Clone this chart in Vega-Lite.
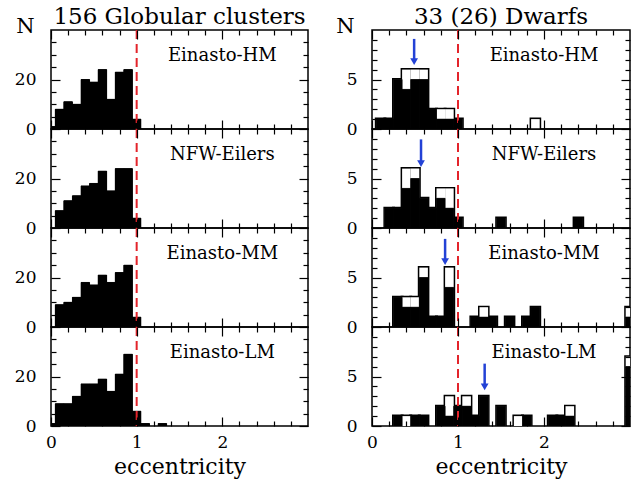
{
"$schema": "https://vega.github.io/schema/vega-lite/v6.json",
"padding": {"left": 13, "top": 5, "right": 0, "bottom": 2},
"config": {"view": {"stroke": "black", "strokeWidth": 1.5}, "font": "DejaVu Serif"},
"datasets": {
"bars": [
{"s":"G","m":"HM","k":"f","e":0.0,"n":1},{"s":"G","m":"HM","k":"f","e":0.1,"n":8},{"s":"G","m":"HM","k":"f","e":0.2,"n":11},{"s":"G","m":"HM","k":"f","e":0.3,"n":10},{"s":"G","m":"HM","k":"f","e":0.4,"n":20},{"s":"G","m":"HM","k":"f","e":0.5,"n":19},{"s":"G","m":"HM","k":"f","e":0.6,"n":24},{"s":"G","m":"HM","k":"f","e":0.7,"n":12},{"s":"G","m":"HM","k":"f","e":0.8,"n":23},{"s":"G","m":"HM","k":"f","e":0.9,"n":24},{"s":"G","m":"HM","k":"f","e":1.0,"n":4},
{"s":"G","m":"NFW","k":"f","e":0.1,"n":7},{"s":"G","m":"NFW","k":"f","e":0.2,"n":11},{"s":"G","m":"NFW","k":"f","e":0.3,"n":13},{"s":"G","m":"NFW","k":"f","e":0.4,"n":17},{"s":"G","m":"NFW","k":"f","e":0.5,"n":18},{"s":"G","m":"NFW","k":"f","e":0.6,"n":23},{"s":"G","m":"NFW","k":"f","e":0.7,"n":15},{"s":"G","m":"NFW","k":"f","e":0.8,"n":24},{"s":"G","m":"NFW","k":"f","e":0.9,"n":24},{"s":"G","m":"NFW","k":"f","e":1.0,"n":4},
{"s":"G","m":"MM","k":"f","e":0.1,"n":9},{"s":"G","m":"MM","k":"f","e":0.2,"n":10},{"s":"G","m":"MM","k":"f","e":0.3,"n":12},{"s":"G","m":"MM","k":"f","e":0.4,"n":18},{"s":"G","m":"MM","k":"f","e":0.5,"n":17},{"s":"G","m":"MM","k":"f","e":0.6,"n":21},{"s":"G","m":"MM","k":"f","e":0.7,"n":18},{"s":"G","m":"MM","k":"f","e":0.8,"n":22},{"s":"G","m":"MM","k":"f","e":0.9,"n":25},{"s":"G","m":"MM","k":"f","e":1.0,"n":4},
{"s":"G","m":"LM","k":"f","e":0.0,"n":1},{"s":"G","m":"LM","k":"f","e":0.1,"n":9},{"s":"G","m":"LM","k":"f","e":0.2,"n":9},{"s":"G","m":"LM","k":"f","e":0.3,"n":12},{"s":"G","m":"LM","k":"f","e":0.4,"n":17},{"s":"G","m":"LM","k":"f","e":0.5,"n":17},{"s":"G","m":"LM","k":"f","e":0.6,"n":19},{"s":"G","m":"LM","k":"f","e":0.7,"n":14},{"s":"G","m":"LM","k":"f","e":0.8,"n":21},{"s":"G","m":"LM","k":"f","e":0.9,"n":29},{"s":"G","m":"LM","k":"f","e":1.0,"n":6},{"s":"G","m":"LM","k":"f","e":1.1,"n":1},{"s":"G","m":"LM","k":"f","e":1.3,"n":1},
{"s":"D","m":"HM","k":"f","e":0.1,"n":1},{"s":"D","m":"HM","k":"f","e":0.2,"n":1},{"s":"D","m":"HM","k":"f","e":0.3,"n":5},{"s":"D","m":"HM","k":"f","e":0.4,"n":4},{"s":"D","m":"HM","k":"f","e":0.5,"n":5},{"s":"D","m":"HM","k":"f","e":0.6,"n":5},{"s":"D","m":"HM","k":"f","e":0.7,"n":2},{"s":"D","m":"HM","k":"f","e":0.8,"n":1},{"s":"D","m":"HM","k":"f","e":0.9,"n":1},{"s":"D","m":"HM","k":"f","e":1.0,"n":1},
{"s":"D","m":"HM","k":"o","e":0.1,"n":1},{"s":"D","m":"HM","k":"o","e":0.2,"n":1},{"s":"D","m":"HM","k":"o","e":0.3,"n":5},{"s":"D","m":"HM","k":"o","e":0.4,"n":6},{"s":"D","m":"HM","k":"o","e":0.5,"n":6},{"s":"D","m":"HM","k":"o","e":0.6,"n":6},{"s":"D","m":"HM","k":"o","e":0.7,"n":2},{"s":"D","m":"HM","k":"o","e":0.8,"n":2},{"s":"D","m":"HM","k":"o","e":0.9,"n":2},{"s":"D","m":"HM","k":"o","e":1.0,"n":1},{"s":"D","m":"HM","k":"o","e":1.9,"n":1},
{"s":"D","m":"NFW","k":"f","e":0.2,"n":2},{"s":"D","m":"NFW","k":"f","e":0.3,"n":2},{"s":"D","m":"NFW","k":"f","e":0.4,"n":4},{"s":"D","m":"NFW","k":"f","e":0.5,"n":5},{"s":"D","m":"NFW","k":"f","e":0.6,"n":3},{"s":"D","m":"NFW","k":"f","e":0.7,"n":2},{"s":"D","m":"NFW","k":"f","e":0.8,"n":3},{"s":"D","m":"NFW","k":"f","e":0.9,"n":2},{"s":"D","m":"NFW","k":"f","e":1.0,"n":1},{"s":"D","m":"NFW","k":"f","e":1.5,"n":1},{"s":"D","m":"NFW","k":"f","e":2.4,"n":1},
{"s":"D","m":"NFW","k":"o","e":0.2,"n":2},{"s":"D","m":"NFW","k":"o","e":0.3,"n":2},{"s":"D","m":"NFW","k":"o","e":0.4,"n":6},{"s":"D","m":"NFW","k":"o","e":0.5,"n":6},{"s":"D","m":"NFW","k":"o","e":0.6,"n":3},{"s":"D","m":"NFW","k":"o","e":0.7,"n":2},{"s":"D","m":"NFW","k":"o","e":0.8,"n":4},{"s":"D","m":"NFW","k":"o","e":0.9,"n":4},{"s":"D","m":"NFW","k":"o","e":1.0,"n":1},{"s":"D","m":"NFW","k":"o","e":1.5,"n":1},{"s":"D","m":"NFW","k":"o","e":2.4,"n":1},
{"s":"D","m":"MM","k":"f","e":0.3,"n":3},{"s":"D","m":"MM","k":"f","e":0.4,"n":2},{"s":"D","m":"MM","k":"f","e":0.5,"n":2},{"s":"D","m":"MM","k":"f","e":0.6,"n":5},{"s":"D","m":"MM","k":"f","e":0.7,"n":1},{"s":"D","m":"MM","k":"f","e":0.8,"n":1},{"s":"D","m":"MM","k":"f","e":0.9,"n":4},{"s":"D","m":"MM","k":"f","e":1.2,"n":1},{"s":"D","m":"MM","k":"f","e":1.3,"n":1},{"s":"D","m":"MM","k":"f","e":1.4,"n":1},{"s":"D","m":"MM","k":"f","e":1.6,"n":1},{"s":"D","m":"MM","k":"f","e":1.8,"n":1},{"s":"D","m":"MM","k":"f","e":1.9,"n":2},{"s":"D","m":"MM","k":"f","e":3.0,"n":1},
{"s":"D","m":"MM","k":"o","e":0.3,"n":3},{"s":"D","m":"MM","k":"o","e":0.4,"n":3},{"s":"D","m":"MM","k":"o","e":0.5,"n":3},{"s":"D","m":"MM","k":"o","e":0.6,"n":6},{"s":"D","m":"MM","k":"o","e":0.7,"n":1},{"s":"D","m":"MM","k":"o","e":0.8,"n":1},{"s":"D","m":"MM","k":"o","e":0.9,"n":6},{"s":"D","m":"MM","k":"o","e":1.2,"n":1},{"s":"D","m":"MM","k":"o","e":1.3,"n":2},{"s":"D","m":"MM","k":"o","e":1.4,"n":1},{"s":"D","m":"MM","k":"o","e":1.6,"n":1},{"s":"D","m":"MM","k":"o","e":1.8,"n":1},{"s":"D","m":"MM","k":"o","e":1.9,"n":2},{"s":"D","m":"MM","k":"o","e":3.0,"n":2},
{"s":"D","m":"LM","k":"f","e":0.3,"n":1},{"s":"D","m":"LM","k":"f","e":0.5,"n":1},{"s":"D","m":"LM","k":"f","e":0.6,"n":1},{"s":"D","m":"LM","k":"f","e":0.8,"n":2},{"s":"D","m":"LM","k":"f","e":0.9,"n":1},{"s":"D","m":"LM","k":"f","e":1.0,"n":2},{"s":"D","m":"LM","k":"f","e":1.1,"n":2},{"s":"D","m":"LM","k":"f","e":1.2,"n":1},{"s":"D","m":"LM","k":"f","e":1.3,"n":3},{"s":"D","m":"LM","k":"f","e":1.5,"n":2},{"s":"D","m":"LM","k":"f","e":1.8,"n":1},{"s":"D","m":"LM","k":"f","e":2.1,"n":1},{"s":"D","m":"LM","k":"f","e":2.2,"n":1},{"s":"D","m":"LM","k":"f","e":2.3,"n":1},{"s":"D","m":"LM","k":"f","e":3.0,"n":6},
{"s":"D","m":"LM","k":"o","e":0.3,"n":1},{"s":"D","m":"LM","k":"o","e":0.4,"n":1},{"s":"D","m":"LM","k":"o","e":0.5,"n":1},{"s":"D","m":"LM","k":"o","e":0.6,"n":1},{"s":"D","m":"LM","k":"o","e":0.8,"n":2},{"s":"D","m":"LM","k":"o","e":0.9,"n":3},{"s":"D","m":"LM","k":"o","e":1.0,"n":2},{"s":"D","m":"LM","k":"o","e":1.1,"n":3},{"s":"D","m":"LM","k":"o","e":1.2,"n":1},{"s":"D","m":"LM","k":"o","e":1.3,"n":3},{"s":"D","m":"LM","k":"o","e":1.5,"n":2},{"s":"D","m":"LM","k":"o","e":1.7,"n":1},{"s":"D","m":"LM","k":"o","e":1.8,"n":1},{"s":"D","m":"LM","k":"o","e":2.1,"n":1},{"s":"D","m":"LM","k":"o","e":2.2,"n":1},{"s":"D","m":"LM","k":"o","e":2.3,"n":2},{"s":"D","m":"LM","k":"o","e":3.0,"n":7}
],
"arrows": [
{"m":"HM","e":0.49,"top":9.1,"head":6.8},
{"m":"NFW","e":0.57,"top":8.95,"head":6.5},
{"m":"MM","e":0.85,"top":8.9,"head":6.6},
{"m":"LM","e":1.31,"top":6.3,"head":3.95}
]
},
"spacing": 25,
"hconcat": [
{"spacing": 0, "bounds": "flush", "vconcat": [
{"width": 257, "height": 99,
 "title": {"text": "156 Globular clusters", "font": "DejaVu Serif", "fontSize": 23, "fontWeight": "normal", "color": "black", "anchor": "middle", "offset": -14},
 "resolve": {"axis": {"x": "independent", "y": "independent"}},
 "layer": [
  {"data": {"name": "bars"}, "transform": [{"filter": "datum.s === 'G' && datum.m === 'HM'"}, {"calculate": "datum.e - 0.05", "as": "lo"}, {"calculate": "datum.e + 0.05", "as": "hi"}],
   "mark": {"type": "bar", "color": "black", "stroke": "black", "strokeWidth": 0.6, "clip": true},
   "encoding": {"x": {"field": "lo", "type": "quantitative", "scale": {"domain": [0, 3]}, "axis": {"orient": "bottom", "values": [0,1,2], "labels": false, "domain": false, "grid": false, "title": null, "tickColor": "black", "tickWidth": 1.2, "tickSize": -9, "zindex": 1}}, "x2": {"field": "hi"},
    "y": {"field": "n", "type": "quantitative", "scale": {"domain": [0, 40]}, "axis": {"orient": "left", "values": [0,20], "labelFont": "DejaVu Serif", "labelFontSize": 17, "labelColor": "black", "labelFlush": false, "labelPadding": 24, "domain": false, "grid": false, "title": "N", "titleAngle": 0, "titleX": -26, "titleY": -4, "titleAlign": "center", "titleBaseline": "middle", "titleFont": "DejaVu Serif", "titleFontSize": 21, "titleFontWeight": "normal", "titleColor": "black", "tickColor": "black", "tickWidth": 1.2, "tickSize": -9, "zindex": 1}}, "y2": {"datum": 0}}},
  {"data": {"name": "bars"}, "transform": [{"filter": "datum.s === 'G' && datum.m === 'HM'"}, {"calculate": "datum.e - 0.05", "as": "lo"}, {"calculate": "datum.e + 0.05", "as": "hi"}],
   "mark": {"type": "bar", "color": "black", "clip": true},
   "encoding": {"x": {"field": "lo", "type": "quantitative", "axis": {"orient": "bottom", "values": [0.2,0.4,0.6,0.8,1.2,1.4,1.6,1.8,2.2,2.4,2.6,2.8], "labels": false, "domain": false, "grid": false, "title": null, "tickColor": "black", "tickWidth": 1.2, "tickSize": -5, "zindex": 1}}, "x2": {"field": "hi"},
    "y": {"field": "n", "type": "quantitative", "axis": {"orient": "left", "values": [5,10,15,25,30,35], "labels": false, "domain": false, "grid": false, "title": null, "tickColor": "black", "tickWidth": 1.2, "tickSize": -5, "zindex": 1}}, "y2": {"datum": 0}}},
  {"data": {"name": "bars"}, "transform": [{"filter": "datum.s === 'G' && datum.m === 'HM'"}, {"calculate": "datum.e - 0.05", "as": "lo"}, {"calculate": "datum.e + 0.05", "as": "hi"}],
   "mark": {"type": "bar", "color": "black", "clip": true},
   "encoding": {"x": {"field": "lo", "type": "quantitative", "axis": {"orient": "top", "values": [0,1,2], "labels": false, "domain": false, "grid": false, "title": null, "tickColor": "black", "tickWidth": 1.2, "tickSize": -9, "zindex": 1}}, "x2": {"field": "hi"},
    "y": {"field": "n", "type": "quantitative", "axis": {"orient": "right", "values": [0,20], "labels": false, "domain": false, "grid": false, "title": null, "tickColor": "black", "tickWidth": 1.2, "tickSize": -9, "zindex": 1}}, "y2": {"datum": 0}}},
  {"data": {"name": "bars"}, "transform": [{"filter": "datum.s === 'G' && datum.m === 'HM'"}, {"calculate": "datum.e - 0.05", "as": "lo"}, {"calculate": "datum.e + 0.05", "as": "hi"}],
   "mark": {"type": "bar", "color": "black", "clip": true},
   "encoding": {"x": {"field": "lo", "type": "quantitative", "axis": {"orient": "top", "values": [0.2,0.4,0.6,0.8,1.2,1.4,1.6,1.8,2.2,2.4,2.6,2.8], "labels": false, "domain": false, "grid": false, "title": null, "tickColor": "black", "tickWidth": 1.2, "tickSize": -5, "zindex": 1}}, "x2": {"field": "hi"},
    "y": {"field": "n", "type": "quantitative", "axis": {"orient": "right", "values": [5,10,15,25,30,35], "labels": false, "domain": false, "grid": false, "title": null, "tickColor": "black", "tickWidth": 1.2, "tickSize": -5, "zindex": 1}}, "y2": {"datum": 0}}},
  {"data": {"values": [{}]}, "mark": {"type": "rule", "color": "#e3242b", "strokeDash": [9, 5], "strokeWidth": 2}, "encoding": {"x": {"datum": 1, "type": "quantitative", "axis": null}}},
  {"data": {"values": [{"t": "Einasto-HM"}]}, "mark": {"type": "text", "font": "DejaVu Serif", "fontSize": 18, "color": "black"}, "encoding": {"x": {"datum": 2, "type": "quantitative", "axis": null}, "y": {"datum": 29.6, "type": "quantitative", "axis": null}, "text": {"field": "t"}}}
 ]},
{"width": 257, "height": 99,
 "resolve": {"axis": {"x": "independent", "y": "independent"}},
 "layer": [
  {"data": {"name": "bars"}, "transform": [{"filter": "datum.s === 'G' && datum.m === 'NFW'"}, {"calculate": "datum.e - 0.05", "as": "lo"}, {"calculate": "datum.e + 0.05", "as": "hi"}],
   "mark": {"type": "bar", "color": "black", "stroke": "black", "strokeWidth": 0.6, "clip": true},
   "encoding": {"x": {"field": "lo", "type": "quantitative", "scale": {"domain": [0, 3]}, "axis": {"orient": "bottom", "values": [0,1,2], "labels": false, "domain": false, "grid": false, "title": null, "tickColor": "black", "tickWidth": 1.2, "tickSize": -9, "zindex": 1}}, "x2": {"field": "hi"},
    "y": {"field": "n", "type": "quantitative", "scale": {"domain": [0, 40]}, "axis": {"orient": "left", "values": [0,20], "labelFont": "DejaVu Serif", "labelFontSize": 17, "labelColor": "black", "labelFlush": false, "labelPadding": 24, "domain": false, "grid": false, "title": null, "tickColor": "black", "tickWidth": 1.2, "tickSize": -9, "zindex": 1}}, "y2": {"datum": 0}}},
  {"data": {"name": "bars"}, "transform": [{"filter": "datum.s === 'G' && datum.m === 'NFW'"}, {"calculate": "datum.e - 0.05", "as": "lo"}, {"calculate": "datum.e + 0.05", "as": "hi"}],
   "mark": {"type": "bar", "color": "black", "clip": true},
   "encoding": {"x": {"field": "lo", "type": "quantitative", "axis": {"orient": "bottom", "values": [0.2,0.4,0.6,0.8,1.2,1.4,1.6,1.8,2.2,2.4,2.6,2.8], "labels": false, "domain": false, "grid": false, "title": null, "tickColor": "black", "tickWidth": 1.2, "tickSize": -5, "zindex": 1}}, "x2": {"field": "hi"},
    "y": {"field": "n", "type": "quantitative", "axis": {"orient": "left", "values": [5,10,15,25,30,35], "labels": false, "domain": false, "grid": false, "title": null, "tickColor": "black", "tickWidth": 1.2, "tickSize": -5, "zindex": 1}}, "y2": {"datum": 0}}},
  {"data": {"name": "bars"}, "transform": [{"filter": "datum.s === 'G' && datum.m === 'NFW'"}, {"calculate": "datum.e - 0.05", "as": "lo"}, {"calculate": "datum.e + 0.05", "as": "hi"}],
   "mark": {"type": "bar", "color": "black", "clip": true},
   "encoding": {"x": {"field": "lo", "type": "quantitative", "axis": {"orient": "top", "values": [0,1,2], "labels": false, "domain": false, "grid": false, "title": null, "tickColor": "black", "tickWidth": 1.2, "tickSize": -9, "zindex": 1}}, "x2": {"field": "hi"},
    "y": {"field": "n", "type": "quantitative", "axis": {"orient": "right", "values": [0,20], "labels": false, "domain": false, "grid": false, "title": null, "tickColor": "black", "tickWidth": 1.2, "tickSize": -9, "zindex": 1}}, "y2": {"datum": 0}}},
  {"data": {"name": "bars"}, "transform": [{"filter": "datum.s === 'G' && datum.m === 'NFW'"}, {"calculate": "datum.e - 0.05", "as": "lo"}, {"calculate": "datum.e + 0.05", "as": "hi"}],
   "mark": {"type": "bar", "color": "black", "clip": true},
   "encoding": {"x": {"field": "lo", "type": "quantitative", "axis": {"orient": "top", "values": [0.2,0.4,0.6,0.8,1.2,1.4,1.6,1.8,2.2,2.4,2.6,2.8], "labels": false, "domain": false, "grid": false, "title": null, "tickColor": "black", "tickWidth": 1.2, "tickSize": -5, "zindex": 1}}, "x2": {"field": "hi"},
    "y": {"field": "n", "type": "quantitative", "axis": {"orient": "right", "values": [5,10,15,25,30,35], "labels": false, "domain": false, "grid": false, "title": null, "tickColor": "black", "tickWidth": 1.2, "tickSize": -5, "zindex": 1}}, "y2": {"datum": 0}}},
  {"data": {"values": [{}]}, "mark": {"type": "rule", "color": "#e3242b", "strokeDash": [9, 5], "strokeWidth": 2}, "encoding": {"x": {"datum": 1, "type": "quantitative", "axis": null}}},
  {"data": {"values": [{"t": "NFW-Eilers"}]}, "mark": {"type": "text", "font": "DejaVu Serif", "fontSize": 18, "color": "black"}, "encoding": {"x": {"datum": 2, "type": "quantitative", "axis": null}, "y": {"datum": 29.6, "type": "quantitative", "axis": null}, "text": {"field": "t"}}}
 ]},
{"width": 257, "height": 99,
 "resolve": {"axis": {"x": "independent", "y": "independent"}},
 "layer": [
  {"data": {"name": "bars"}, "transform": [{"filter": "datum.s === 'G' && datum.m === 'MM'"}, {"calculate": "datum.e - 0.05", "as": "lo"}, {"calculate": "datum.e + 0.05", "as": "hi"}],
   "mark": {"type": "bar", "color": "black", "stroke": "black", "strokeWidth": 0.6, "clip": true},
   "encoding": {"x": {"field": "lo", "type": "quantitative", "scale": {"domain": [0, 3]}, "axis": {"orient": "bottom", "values": [0,1,2], "labels": false, "domain": false, "grid": false, "title": null, "tickColor": "black", "tickWidth": 1.2, "tickSize": -9, "zindex": 1}}, "x2": {"field": "hi"},
    "y": {"field": "n", "type": "quantitative", "scale": {"domain": [0, 40]}, "axis": {"orient": "left", "values": [0,20], "labelFont": "DejaVu Serif", "labelFontSize": 17, "labelColor": "black", "labelFlush": false, "labelPadding": 24, "domain": false, "grid": false, "title": null, "tickColor": "black", "tickWidth": 1.2, "tickSize": -9, "zindex": 1}}, "y2": {"datum": 0}}},
  {"data": {"name": "bars"}, "transform": [{"filter": "datum.s === 'G' && datum.m === 'MM'"}, {"calculate": "datum.e - 0.05", "as": "lo"}, {"calculate": "datum.e + 0.05", "as": "hi"}],
   "mark": {"type": "bar", "color": "black", "clip": true},
   "encoding": {"x": {"field": "lo", "type": "quantitative", "axis": {"orient": "bottom", "values": [0.2,0.4,0.6,0.8,1.2,1.4,1.6,1.8,2.2,2.4,2.6,2.8], "labels": false, "domain": false, "grid": false, "title": null, "tickColor": "black", "tickWidth": 1.2, "tickSize": -5, "zindex": 1}}, "x2": {"field": "hi"},
    "y": {"field": "n", "type": "quantitative", "axis": {"orient": "left", "values": [5,10,15,25,30,35], "labels": false, "domain": false, "grid": false, "title": null, "tickColor": "black", "tickWidth": 1.2, "tickSize": -5, "zindex": 1}}, "y2": {"datum": 0}}},
  {"data": {"name": "bars"}, "transform": [{"filter": "datum.s === 'G' && datum.m === 'MM'"}, {"calculate": "datum.e - 0.05", "as": "lo"}, {"calculate": "datum.e + 0.05", "as": "hi"}],
   "mark": {"type": "bar", "color": "black", "clip": true},
   "encoding": {"x": {"field": "lo", "type": "quantitative", "axis": {"orient": "top", "values": [0,1,2], "labels": false, "domain": false, "grid": false, "title": null, "tickColor": "black", "tickWidth": 1.2, "tickSize": -9, "zindex": 1}}, "x2": {"field": "hi"},
    "y": {"field": "n", "type": "quantitative", "axis": {"orient": "right", "values": [0,20], "labels": false, "domain": false, "grid": false, "title": null, "tickColor": "black", "tickWidth": 1.2, "tickSize": -9, "zindex": 1}}, "y2": {"datum": 0}}},
  {"data": {"name": "bars"}, "transform": [{"filter": "datum.s === 'G' && datum.m === 'MM'"}, {"calculate": "datum.e - 0.05", "as": "lo"}, {"calculate": "datum.e + 0.05", "as": "hi"}],
   "mark": {"type": "bar", "color": "black", "clip": true},
   "encoding": {"x": {"field": "lo", "type": "quantitative", "axis": {"orient": "top", "values": [0.2,0.4,0.6,0.8,1.2,1.4,1.6,1.8,2.2,2.4,2.6,2.8], "labels": false, "domain": false, "grid": false, "title": null, "tickColor": "black", "tickWidth": 1.2, "tickSize": -5, "zindex": 1}}, "x2": {"field": "hi"},
    "y": {"field": "n", "type": "quantitative", "axis": {"orient": "right", "values": [5,10,15,25,30,35], "labels": false, "domain": false, "grid": false, "title": null, "tickColor": "black", "tickWidth": 1.2, "tickSize": -5, "zindex": 1}}, "y2": {"datum": 0}}},
  {"data": {"values": [{}]}, "mark": {"type": "rule", "color": "#e3242b", "strokeDash": [9, 5], "strokeWidth": 2}, "encoding": {"x": {"datum": 1, "type": "quantitative", "axis": null}}},
  {"data": {"values": [{"t": "Einasto-MM"}]}, "mark": {"type": "text", "font": "DejaVu Serif", "fontSize": 18, "color": "black"}, "encoding": {"x": {"datum": 2, "type": "quantitative", "axis": null}, "y": {"datum": 29.6, "type": "quantitative", "axis": null}, "text": {"field": "t"}}}
 ]},
{"width": 257, "height": 99,
 "resolve": {"axis": {"x": "independent", "y": "independent"}},
 "layer": [
  {"data": {"name": "bars"}, "transform": [{"filter": "datum.s === 'G' && datum.m === 'LM'"}, {"calculate": "datum.e - 0.05", "as": "lo"}, {"calculate": "datum.e + 0.05", "as": "hi"}],
   "mark": {"type": "bar", "color": "black", "stroke": "black", "strokeWidth": 0.6, "clip": true},
   "encoding": {"x": {"field": "lo", "type": "quantitative", "scale": {"domain": [0, 3]}, "axis": {"orient": "bottom", "values": [0,1,2], "format": "d", "labelFont": "DejaVu Serif", "labelFontSize": 17, "labelColor": "black", "labelFlush": false, "labelPadding": 17, "domain": false, "grid": false, "title": "eccentricity", "titleFont": "DejaVu Serif", "titleFontSize": 22, "titleFontWeight": "normal", "titleColor": "black", "titlePadding": 6, "tickColor": "black", "tickWidth": 1.2, "tickSize": -9, "zindex": 1}}, "x2": {"field": "hi"},
    "y": {"field": "n", "type": "quantitative", "scale": {"domain": [0, 40]}, "axis": {"orient": "left", "values": [0,20], "labelFont": "DejaVu Serif", "labelFontSize": 17, "labelColor": "black", "labelFlush": false, "labelPadding": 24, "domain": false, "grid": false, "title": null, "tickColor": "black", "tickWidth": 1.2, "tickSize": -9, "zindex": 1}}, "y2": {"datum": 0}}},
  {"data": {"name": "bars"}, "transform": [{"filter": "datum.s === 'G' && datum.m === 'LM'"}, {"calculate": "datum.e - 0.05", "as": "lo"}, {"calculate": "datum.e + 0.05", "as": "hi"}],
   "mark": {"type": "bar", "color": "black", "clip": true},
   "encoding": {"x": {"field": "lo", "type": "quantitative", "axis": {"orient": "bottom", "values": [0.2,0.4,0.6,0.8,1.2,1.4,1.6,1.8,2.2,2.4,2.6,2.8], "labels": false, "domain": false, "grid": false, "title": null, "tickColor": "black", "tickWidth": 1.2, "tickSize": -5, "zindex": 1}}, "x2": {"field": "hi"},
    "y": {"field": "n", "type": "quantitative", "axis": {"orient": "left", "values": [5,10,15,25,30,35], "labels": false, "domain": false, "grid": false, "title": null, "tickColor": "black", "tickWidth": 1.2, "tickSize": -5, "zindex": 1}}, "y2": {"datum": 0}}},
  {"data": {"name": "bars"}, "transform": [{"filter": "datum.s === 'G' && datum.m === 'LM'"}, {"calculate": "datum.e - 0.05", "as": "lo"}, {"calculate": "datum.e + 0.05", "as": "hi"}],
   "mark": {"type": "bar", "color": "black", "clip": true},
   "encoding": {"x": {"field": "lo", "type": "quantitative", "axis": {"orient": "top", "values": [0,1,2], "labels": false, "domain": false, "grid": false, "title": null, "tickColor": "black", "tickWidth": 1.2, "tickSize": -9, "zindex": 1}}, "x2": {"field": "hi"},
    "y": {"field": "n", "type": "quantitative", "axis": {"orient": "right", "values": [0,20], "labels": false, "domain": false, "grid": false, "title": null, "tickColor": "black", "tickWidth": 1.2, "tickSize": -9, "zindex": 1}}, "y2": {"datum": 0}}},
  {"data": {"name": "bars"}, "transform": [{"filter": "datum.s === 'G' && datum.m === 'LM'"}, {"calculate": "datum.e - 0.05", "as": "lo"}, {"calculate": "datum.e + 0.05", "as": "hi"}],
   "mark": {"type": "bar", "color": "black", "clip": true},
   "encoding": {"x": {"field": "lo", "type": "quantitative", "axis": {"orient": "top", "values": [0.2,0.4,0.6,0.8,1.2,1.4,1.6,1.8,2.2,2.4,2.6,2.8], "labels": false, "domain": false, "grid": false, "title": null, "tickColor": "black", "tickWidth": 1.2, "tickSize": -5, "zindex": 1}}, "x2": {"field": "hi"},
    "y": {"field": "n", "type": "quantitative", "axis": {"orient": "right", "values": [5,10,15,25,30,35], "labels": false, "domain": false, "grid": false, "title": null, "tickColor": "black", "tickWidth": 1.2, "tickSize": -5, "zindex": 1}}, "y2": {"datum": 0}}},
  {"data": {"values": [{}]}, "mark": {"type": "rule", "color": "#e3242b", "strokeDash": [9, 5], "strokeWidth": 2}, "encoding": {"x": {"datum": 1, "type": "quantitative", "axis": null}}},
  {"data": {"values": [{"t": "Einasto-LM"}]}, "mark": {"type": "text", "font": "DejaVu Serif", "fontSize": 18, "color": "black"}, "encoding": {"x": {"datum": 2, "type": "quantitative", "axis": null}, "y": {"datum": 29.6, "type": "quantitative", "axis": null}, "text": {"field": "t"}}}
 ]}
]},
{"spacing": 0, "bounds": "flush", "vconcat": [
{"width": 258, "height": 99,
 "title": {"text": "33 (26) Dwarfs", "font": "DejaVu Serif", "fontSize": 23, "fontWeight": "normal", "color": "black", "anchor": "middle", "offset": -14},
 "resolve": {"axis": {"x": "independent", "y": "independent"}},
 "layer": [
  {"data": {"name": "bars"}, "transform": [{"filter": "datum.s === 'D' && datum.m === 'HM' && datum.k === 'o'"}, {"calculate": "datum.e - 0.05", "as": "lo"}, {"calculate": "datum.e + 0.05", "as": "hi"}],
   "mark": {"type": "bar", "fill": "white", "stroke": "black", "strokeWidth": 3, "clip": true},
   "encoding": {"x": {"field": "lo", "type": "quantitative", "scale": {"domain": [0, 3]}, "axis": {"orient": "top", "values": [0,1,2], "labels": false, "domain": false, "grid": false, "title": null, "tickColor": "black", "tickWidth": 1.2, "tickSize": -9, "zindex": 1}}, "x2": {"field": "hi"},
    "y": {"field": "n", "type": "quantitative", "scale": {"domain": [0, 10]}, "axis": {"orient": "right", "values": [0,5], "labels": false, "domain": false, "grid": false, "title": null, "tickColor": "black", "tickWidth": 1.2, "tickSize": -9, "zindex": 1}}, "y2": {"datum": 0}}},
  {"data": {"name": "bars"}, "transform": [{"filter": "datum.s === 'D' && datum.m === 'HM' && datum.k === 'o'"}, {"calculate": "datum.e - 0.05", "as": "lo"}, {"calculate": "datum.e + 0.05", "as": "hi"}],
   "mark": {"type": "bar", "fill": "white", "strokeWidth": 0, "clip": true},
   "encoding": {"x": {"field": "lo", "type": "quantitative", "axis": {"orient": "top", "values": [0.2,0.4,0.6,0.8,1.2,1.4,1.6,1.8,2.2,2.4,2.6,2.8], "labels": false, "domain": false, "grid": false, "title": null, "tickColor": "black", "tickWidth": 1.2, "tickSize": -5, "zindex": 1}}, "x2": {"field": "hi"},
    "y": {"field": "n", "type": "quantitative", "axis": {"orient": "right", "values": [1,2,3,4,6,7,8,9], "labels": false, "domain": false, "grid": false, "title": null, "tickColor": "black", "tickWidth": 1.2, "tickSize": -5, "zindex": 1}}, "y2": {"datum": 0}}},
  {"data": {"name": "bars"}, "transform": [{"filter": "datum.s === 'D' && datum.m === 'HM' && datum.k === 'f'"}, {"calculate": "datum.e - 0.05", "as": "lo"}, {"calculate": "datum.e + 0.05", "as": "hi"}],
   "mark": {"type": "bar", "color": "black", "stroke": "black", "strokeWidth": 0.6, "clip": true},
   "encoding": {"x": {"field": "lo", "type": "quantitative", "axis": {"orient": "bottom", "values": [0,1,2], "labels": false, "domain": false, "grid": false, "title": null, "tickColor": "black", "tickWidth": 1.2, "tickSize": -9, "zindex": 1}}, "x2": {"field": "hi"},
    "y": {"field": "n", "type": "quantitative", "axis": {"orient": "left", "values": [0,5], "labelFont": "DejaVu Serif", "labelFontSize": 17, "labelColor": "black", "labelFlush": false, "labelPadding": 24, "domain": false, "grid": false, "title": "N", "titleAngle": 0, "titleX": -27, "titleY": -4, "titleAlign": "center", "titleBaseline": "middle", "titleFont": "DejaVu Serif", "titleFontSize": 21, "titleFontWeight": "normal", "titleColor": "black", "tickColor": "black", "tickWidth": 1.2, "tickSize": -9, "zindex": 1}}, "y2": {"datum": 0}}},
  {"data": {"name": "bars"}, "transform": [{"filter": "datum.s === 'D' && datum.m === 'HM' && datum.k === 'f'"}, {"calculate": "datum.e - 0.05", "as": "lo"}, {"calculate": "datum.e + 0.05", "as": "hi"}],
   "mark": {"type": "bar", "color": "black", "clip": true},
   "encoding": {"x": {"field": "lo", "type": "quantitative", "axis": {"orient": "bottom", "values": [0.2,0.4,0.6,0.8,1.2,1.4,1.6,1.8,2.2,2.4,2.6,2.8], "labels": false, "domain": false, "grid": false, "title": null, "tickColor": "black", "tickWidth": 1.2, "tickSize": -5, "zindex": 1}}, "x2": {"field": "hi"},
    "y": {"field": "n", "type": "quantitative", "axis": {"orient": "left", "values": [1,2,3,4,6,7,8,9], "labels": false, "domain": false, "grid": false, "title": null, "tickColor": "black", "tickWidth": 1.2, "tickSize": -5, "zindex": 1}}, "y2": {"datum": 0}}},
  {"data": {"values": [{}]}, "mark": {"type": "rule", "color": "#e3242b", "strokeDash": [9, 5], "strokeWidth": 2}, "encoding": {"x": {"datum": 1, "type": "quantitative", "axis": null}}},
  {"data": {"values": [{"t": "Einasto-HM"}]}, "mark": {"type": "text", "font": "DejaVu Serif", "fontSize": 18, "color": "black"}, "encoding": {"x": {"datum": 2, "type": "quantitative", "axis": null}, "y": {"datum": 7.4, "type": "quantitative", "axis": null}, "text": {"field": "t"}}},
  {"data": {"name": "arrows"}, "transform": [{"filter": "datum.m === 'HM'"}], "mark": {"type": "rule", "color": "#2342d6", "strokeWidth": 2.5}, "encoding": {"x": {"field": "e", "type": "quantitative", "axis": null}, "y": {"field": "top", "type": "quantitative", "axis": null}, "y2": {"field": "head"}}},
  {"data": {"name": "arrows"}, "transform": [{"filter": "datum.m === 'HM'"}], "mark": {"type": "point", "shape": "triangle-down", "filled": true, "color": "#2342d6", "size": 60, "opacity": 1}, "encoding": {"x": {"field": "e", "type": "quantitative", "axis": null}, "y": {"field": "head", "type": "quantitative", "axis": null}}}
 ]},
{"width": 258, "height": 99,
 "resolve": {"axis": {"x": "independent", "y": "independent"}},
 "layer": [
  {"data": {"name": "bars"}, "transform": [{"filter": "datum.s === 'D' && datum.m === 'NFW' && datum.k === 'o'"}, {"calculate": "datum.e - 0.05", "as": "lo"}, {"calculate": "datum.e + 0.05", "as": "hi"}],
   "mark": {"type": "bar", "fill": "white", "stroke": "black", "strokeWidth": 3, "clip": true},
   "encoding": {"x": {"field": "lo", "type": "quantitative", "scale": {"domain": [0, 3]}, "axis": {"orient": "top", "values": [0,1,2], "labels": false, "domain": false, "grid": false, "title": null, "tickColor": "black", "tickWidth": 1.2, "tickSize": -9, "zindex": 1}}, "x2": {"field": "hi"},
    "y": {"field": "n", "type": "quantitative", "scale": {"domain": [0, 10]}, "axis": {"orient": "right", "values": [0,5], "labels": false, "domain": false, "grid": false, "title": null, "tickColor": "black", "tickWidth": 1.2, "tickSize": -9, "zindex": 1}}, "y2": {"datum": 0}}},
  {"data": {"name": "bars"}, "transform": [{"filter": "datum.s === 'D' && datum.m === 'NFW' && datum.k === 'o'"}, {"calculate": "datum.e - 0.05", "as": "lo"}, {"calculate": "datum.e + 0.05", "as": "hi"}],
   "mark": {"type": "bar", "fill": "white", "strokeWidth": 0, "clip": true},
   "encoding": {"x": {"field": "lo", "type": "quantitative", "axis": {"orient": "top", "values": [0.2,0.4,0.6,0.8,1.2,1.4,1.6,1.8,2.2,2.4,2.6,2.8], "labels": false, "domain": false, "grid": false, "title": null, "tickColor": "black", "tickWidth": 1.2, "tickSize": -5, "zindex": 1}}, "x2": {"field": "hi"},
    "y": {"field": "n", "type": "quantitative", "axis": {"orient": "right", "values": [1,2,3,4,6,7,8,9], "labels": false, "domain": false, "grid": false, "title": null, "tickColor": "black", "tickWidth": 1.2, "tickSize": -5, "zindex": 1}}, "y2": {"datum": 0}}},
  {"data": {"name": "bars"}, "transform": [{"filter": "datum.s === 'D' && datum.m === 'NFW' && datum.k === 'f'"}, {"calculate": "datum.e - 0.05", "as": "lo"}, {"calculate": "datum.e + 0.05", "as": "hi"}],
   "mark": {"type": "bar", "color": "black", "stroke": "black", "strokeWidth": 0.6, "clip": true},
   "encoding": {"x": {"field": "lo", "type": "quantitative", "axis": {"orient": "bottom", "values": [0,1,2], "labels": false, "domain": false, "grid": false, "title": null, "tickColor": "black", "tickWidth": 1.2, "tickSize": -9, "zindex": 1}}, "x2": {"field": "hi"},
    "y": {"field": "n", "type": "quantitative", "axis": {"orient": "left", "values": [0,5], "labelFont": "DejaVu Serif", "labelFontSize": 17, "labelColor": "black", "labelFlush": false, "labelPadding": 24, "domain": false, "grid": false, "title": null, "tickColor": "black", "tickWidth": 1.2, "tickSize": -9, "zindex": 1}}, "y2": {"datum": 0}}},
  {"data": {"name": "bars"}, "transform": [{"filter": "datum.s === 'D' && datum.m === 'NFW' && datum.k === 'f'"}, {"calculate": "datum.e - 0.05", "as": "lo"}, {"calculate": "datum.e + 0.05", "as": "hi"}],
   "mark": {"type": "bar", "color": "black", "clip": true},
   "encoding": {"x": {"field": "lo", "type": "quantitative", "axis": {"orient": "bottom", "values": [0.2,0.4,0.6,0.8,1.2,1.4,1.6,1.8,2.2,2.4,2.6,2.8], "labels": false, "domain": false, "grid": false, "title": null, "tickColor": "black", "tickWidth": 1.2, "tickSize": -5, "zindex": 1}}, "x2": {"field": "hi"},
    "y": {"field": "n", "type": "quantitative", "axis": {"orient": "left", "values": [1,2,3,4,6,7,8,9], "labels": false, "domain": false, "grid": false, "title": null, "tickColor": "black", "tickWidth": 1.2, "tickSize": -5, "zindex": 1}}, "y2": {"datum": 0}}},
  {"data": {"values": [{}]}, "mark": {"type": "rule", "color": "#e3242b", "strokeDash": [9, 5], "strokeWidth": 2}, "encoding": {"x": {"datum": 1, "type": "quantitative", "axis": null}}},
  {"data": {"values": [{"t": "NFW-Eilers"}]}, "mark": {"type": "text", "font": "DejaVu Serif", "fontSize": 18, "color": "black"}, "encoding": {"x": {"datum": 2, "type": "quantitative", "axis": null}, "y": {"datum": 7.4, "type": "quantitative", "axis": null}, "text": {"field": "t"}}},
  {"data": {"name": "arrows"}, "transform": [{"filter": "datum.m === 'NFW'"}], "mark": {"type": "rule", "color": "#2342d6", "strokeWidth": 2.5}, "encoding": {"x": {"field": "e", "type": "quantitative", "axis": null}, "y": {"field": "top", "type": "quantitative", "axis": null}, "y2": {"field": "head"}}},
  {"data": {"name": "arrows"}, "transform": [{"filter": "datum.m === 'NFW'"}], "mark": {"type": "point", "shape": "triangle-down", "filled": true, "color": "#2342d6", "size": 60, "opacity": 1}, "encoding": {"x": {"field": "e", "type": "quantitative", "axis": null}, "y": {"field": "head", "type": "quantitative", "axis": null}}}
 ]},
{"width": 258, "height": 99,
 "resolve": {"axis": {"x": "independent", "y": "independent"}},
 "layer": [
  {"data": {"name": "bars"}, "transform": [{"filter": "datum.s === 'D' && datum.m === 'MM' && datum.k === 'o'"}, {"calculate": "datum.e - 0.05", "as": "lo"}, {"calculate": "datum.e + 0.05", "as": "hi"}],
   "mark": {"type": "bar", "fill": "white", "stroke": "black", "strokeWidth": 3, "clip": true},
   "encoding": {"x": {"field": "lo", "type": "quantitative", "scale": {"domain": [0, 3]}, "axis": {"orient": "top", "values": [0,1,2], "labels": false, "domain": false, "grid": false, "title": null, "tickColor": "black", "tickWidth": 1.2, "tickSize": -9, "zindex": 1}}, "x2": {"field": "hi"},
    "y": {"field": "n", "type": "quantitative", "scale": {"domain": [0, 10]}, "axis": {"orient": "right", "values": [0,5], "labels": false, "domain": false, "grid": false, "title": null, "tickColor": "black", "tickWidth": 1.2, "tickSize": -9, "zindex": 1}}, "y2": {"datum": 0}}},
  {"data": {"name": "bars"}, "transform": [{"filter": "datum.s === 'D' && datum.m === 'MM' && datum.k === 'o'"}, {"calculate": "datum.e - 0.05", "as": "lo"}, {"calculate": "datum.e + 0.05", "as": "hi"}],
   "mark": {"type": "bar", "fill": "white", "strokeWidth": 0, "clip": true},
   "encoding": {"x": {"field": "lo", "type": "quantitative", "axis": {"orient": "top", "values": [0.2,0.4,0.6,0.8,1.2,1.4,1.6,1.8,2.2,2.4,2.6,2.8], "labels": false, "domain": false, "grid": false, "title": null, "tickColor": "black", "tickWidth": 1.2, "tickSize": -5, "zindex": 1}}, "x2": {"field": "hi"},
    "y": {"field": "n", "type": "quantitative", "axis": {"orient": "right", "values": [1,2,3,4,6,7,8,9], "labels": false, "domain": false, "grid": false, "title": null, "tickColor": "black", "tickWidth": 1.2, "tickSize": -5, "zindex": 1}}, "y2": {"datum": 0}}},
  {"data": {"name": "bars"}, "transform": [{"filter": "datum.s === 'D' && datum.m === 'MM' && datum.k === 'f'"}, {"calculate": "datum.e - 0.05", "as": "lo"}, {"calculate": "datum.e + 0.05", "as": "hi"}],
   "mark": {"type": "bar", "color": "black", "stroke": "black", "strokeWidth": 0.6, "clip": true},
   "encoding": {"x": {"field": "lo", "type": "quantitative", "axis": {"orient": "bottom", "values": [0,1,2], "labels": false, "domain": false, "grid": false, "title": null, "tickColor": "black", "tickWidth": 1.2, "tickSize": -9, "zindex": 1}}, "x2": {"field": "hi"},
    "y": {"field": "n", "type": "quantitative", "axis": {"orient": "left", "values": [0,5], "labelFont": "DejaVu Serif", "labelFontSize": 17, "labelColor": "black", "labelFlush": false, "labelPadding": 24, "domain": false, "grid": false, "title": null, "tickColor": "black", "tickWidth": 1.2, "tickSize": -9, "zindex": 1}}, "y2": {"datum": 0}}},
  {"data": {"name": "bars"}, "transform": [{"filter": "datum.s === 'D' && datum.m === 'MM' && datum.k === 'f'"}, {"calculate": "datum.e - 0.05", "as": "lo"}, {"calculate": "datum.e + 0.05", "as": "hi"}],
   "mark": {"type": "bar", "color": "black", "clip": true},
   "encoding": {"x": {"field": "lo", "type": "quantitative", "axis": {"orient": "bottom", "values": [0.2,0.4,0.6,0.8,1.2,1.4,1.6,1.8,2.2,2.4,2.6,2.8], "labels": false, "domain": false, "grid": false, "title": null, "tickColor": "black", "tickWidth": 1.2, "tickSize": -5, "zindex": 1}}, "x2": {"field": "hi"},
    "y": {"field": "n", "type": "quantitative", "axis": {"orient": "left", "values": [1,2,3,4,6,7,8,9], "labels": false, "domain": false, "grid": false, "title": null, "tickColor": "black", "tickWidth": 1.2, "tickSize": -5, "zindex": 1}}, "y2": {"datum": 0}}},
  {"data": {"values": [{}]}, "mark": {"type": "rule", "color": "#e3242b", "strokeDash": [9, 5], "strokeWidth": 2}, "encoding": {"x": {"datum": 1, "type": "quantitative", "axis": null}}},
  {"data": {"values": [{"t": "Einasto-MM"}]}, "mark": {"type": "text", "font": "DejaVu Serif", "fontSize": 18, "color": "black"}, "encoding": {"x": {"datum": 2, "type": "quantitative", "axis": null}, "y": {"datum": 7.4, "type": "quantitative", "axis": null}, "text": {"field": "t"}}},
  {"data": {"name": "arrows"}, "transform": [{"filter": "datum.m === 'MM'"}], "mark": {"type": "rule", "color": "#2342d6", "strokeWidth": 2.5}, "encoding": {"x": {"field": "e", "type": "quantitative", "axis": null}, "y": {"field": "top", "type": "quantitative", "axis": null}, "y2": {"field": "head"}}},
  {"data": {"name": "arrows"}, "transform": [{"filter": "datum.m === 'MM'"}], "mark": {"type": "point", "shape": "triangle-down", "filled": true, "color": "#2342d6", "size": 60, "opacity": 1}, "encoding": {"x": {"field": "e", "type": "quantitative", "axis": null}, "y": {"field": "head", "type": "quantitative", "axis": null}}}
 ]},
{"width": 258, "height": 99,
 "resolve": {"axis": {"x": "independent", "y": "independent"}},
 "layer": [
  {"data": {"name": "bars"}, "transform": [{"filter": "datum.s === 'D' && datum.m === 'LM' && datum.k === 'o'"}, {"calculate": "datum.e - 0.05", "as": "lo"}, {"calculate": "datum.e + 0.05", "as": "hi"}],
   "mark": {"type": "bar", "fill": "white", "stroke": "black", "strokeWidth": 3, "clip": true},
   "encoding": {"x": {"field": "lo", "type": "quantitative", "scale": {"domain": [0, 3]}, "axis": {"orient": "top", "values": [0,1,2], "labels": false, "domain": false, "grid": false, "title": null, "tickColor": "black", "tickWidth": 1.2, "tickSize": -9, "zindex": 1}}, "x2": {"field": "hi"},
    "y": {"field": "n", "type": "quantitative", "scale": {"domain": [0, 10]}, "axis": {"orient": "right", "values": [0,5], "labels": false, "domain": false, "grid": false, "title": null, "tickColor": "black", "tickWidth": 1.2, "tickSize": -9, "zindex": 1}}, "y2": {"datum": 0}}},
  {"data": {"name": "bars"}, "transform": [{"filter": "datum.s === 'D' && datum.m === 'LM' && datum.k === 'o'"}, {"calculate": "datum.e - 0.05", "as": "lo"}, {"calculate": "datum.e + 0.05", "as": "hi"}],
   "mark": {"type": "bar", "fill": "white", "strokeWidth": 0, "clip": true},
   "encoding": {"x": {"field": "lo", "type": "quantitative", "axis": {"orient": "top", "values": [0.2,0.4,0.6,0.8,1.2,1.4,1.6,1.8,2.2,2.4,2.6,2.8], "labels": false, "domain": false, "grid": false, "title": null, "tickColor": "black", "tickWidth": 1.2, "tickSize": -5, "zindex": 1}}, "x2": {"field": "hi"},
    "y": {"field": "n", "type": "quantitative", "axis": {"orient": "right", "values": [1,2,3,4,6,7,8,9], "labels": false, "domain": false, "grid": false, "title": null, "tickColor": "black", "tickWidth": 1.2, "tickSize": -5, "zindex": 1}}, "y2": {"datum": 0}}},
  {"data": {"name": "bars"}, "transform": [{"filter": "datum.s === 'D' && datum.m === 'LM' && datum.k === 'f'"}, {"calculate": "datum.e - 0.05", "as": "lo"}, {"calculate": "datum.e + 0.05", "as": "hi"}],
   "mark": {"type": "bar", "color": "black", "stroke": "black", "strokeWidth": 0.6, "clip": true},
   "encoding": {"x": {"field": "lo", "type": "quantitative", "axis": {"orient": "bottom", "values": [0,1,2], "format": "d", "labelFont": "DejaVu Serif", "labelFontSize": 17, "labelColor": "black", "labelFlush": false, "labelPadding": 17, "domain": false, "grid": false, "title": "eccentricity", "titleFont": "DejaVu Serif", "titleFontSize": 22, "titleFontWeight": "normal", "titleColor": "black", "titlePadding": 6, "tickColor": "black", "tickWidth": 1.2, "tickSize": -9, "zindex": 1}}, "x2": {"field": "hi"},
    "y": {"field": "n", "type": "quantitative", "axis": {"orient": "left", "values": [0,5], "labelFont": "DejaVu Serif", "labelFontSize": 17, "labelColor": "black", "labelFlush": false, "labelPadding": 24, "domain": false, "grid": false, "title": null, "tickColor": "black", "tickWidth": 1.2, "tickSize": -9, "zindex": 1}}, "y2": {"datum": 0}}},
  {"data": {"name": "bars"}, "transform": [{"filter": "datum.s === 'D' && datum.m === 'LM' && datum.k === 'f'"}, {"calculate": "datum.e - 0.05", "as": "lo"}, {"calculate": "datum.e + 0.05", "as": "hi"}],
   "mark": {"type": "bar", "color": "black", "clip": true},
   "encoding": {"x": {"field": "lo", "type": "quantitative", "axis": {"orient": "bottom", "values": [0.2,0.4,0.6,0.8,1.2,1.4,1.6,1.8,2.2,2.4,2.6,2.8], "labels": false, "domain": false, "grid": false, "title": null, "tickColor": "black", "tickWidth": 1.2, "tickSize": -5, "zindex": 1}}, "x2": {"field": "hi"},
    "y": {"field": "n", "type": "quantitative", "axis": {"orient": "left", "values": [1,2,3,4,6,7,8,9], "labels": false, "domain": false, "grid": false, "title": null, "tickColor": "black", "tickWidth": 1.2, "tickSize": -5, "zindex": 1}}, "y2": {"datum": 0}}},
  {"data": {"values": [{}]}, "mark": {"type": "rule", "color": "#e3242b", "strokeDash": [9, 5], "strokeWidth": 2}, "encoding": {"x": {"datum": 1, "type": "quantitative", "axis": null}}},
  {"data": {"values": [{"t": "Einasto-LM"}]}, "mark": {"type": "text", "font": "DejaVu Serif", "fontSize": 18, "color": "black"}, "encoding": {"x": {"datum": 2, "type": "quantitative", "axis": null}, "y": {"datum": 7.4, "type": "quantitative", "axis": null}, "text": {"field": "t"}}},
  {"data": {"name": "arrows"}, "transform": [{"filter": "datum.m === 'LM'"}], "mark": {"type": "rule", "color": "#2342d6", "strokeWidth": 2.5}, "encoding": {"x": {"field": "e", "type": "quantitative", "axis": null}, "y": {"field": "top", "type": "quantitative", "axis": null}, "y2": {"field": "head"}}},
  {"data": {"name": "arrows"}, "transform": [{"filter": "datum.m === 'LM'"}], "mark": {"type": "point", "shape": "triangle-down", "filled": true, "color": "#2342d6", "size": 60, "opacity": 1}, "encoding": {"x": {"field": "e", "type": "quantitative", "axis": null}, "y": {"field": "head", "type": "quantitative", "axis": null}}}
 ]}
]}
]
}
